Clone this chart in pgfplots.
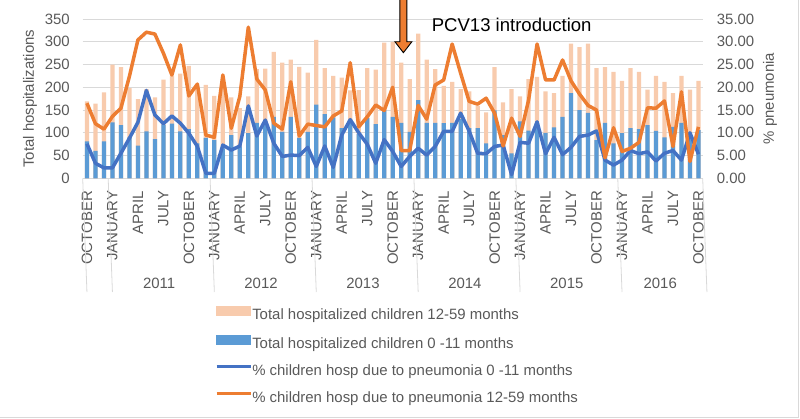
\documentclass[border=0pt]{standalone}
\usepackage{pgfplots}
\pgfplotsset{compat=1.18}
\usepackage{pgfplotstable}
\usepackage{fontspec}
\setmainfont{Liberation Sans}
\definecolor{peach}{HTML}{F8CBAD}
\definecolor{barblue}{HTML}{5B9BD5}
\definecolor{lineblue}{HTML}{4472C4}
\definecolor{lineorange}{HTML}{ED7D31}
\definecolor{gridgray}{HTML}{D9D9D9}
\definecolor{textgray}{HTML}{595959}
\newcommand\f{\fontsize{15}{18}\selectfont}

\pgfplotstableread{
i peach blue bl or
0 169 81 7.6 16.5
1 164 60 3.3 12.0
2 189 81 2.3 10.8
3 250 123 2.3 13.6
4 244 117 5.5 15.4
5 198 90 8.8 22.4
6 174 72 12.3 30.4
7 196 103 19.3 32.1
8 178 86 13.9 31.7
9 217 117 12.0 27.5
10 225 120 13.7 22.7
11 230 103 12.1 29.3
12 247 108 9.9 18.1
13 200 77 7.0 20.7
14 205 89 1.1 9.5
15 181 84 1.1 9.0
16 196 66 7.3 22.7
17 178 95 6.2 11.0
18 154 70 7.1 18.0
19 180 99 15.9 33.2
20 240 122 9.3 21.8
21 241 124 12.8 19.4
22 278 135 7.7 12.1
23 254 102 4.8 10.8
24 261 135 5.1 21.2
25 245 89 5.0 9.3
26 232 102 6.8 11.9
27 304 162 2.6 11.6
28 242 141 7.1 11.3
29 225 134 2.4 13.7
30 221 110 9.5 14.8
31 193 121 12.9 25.4
32 194 97 10.0 11.3
33 242 132 7.5 13.5
34 239 119 3.3 16.1
35 298 150 8.5 14.9
36 300 135 5.9 20.0
37 254 122 2.6 6.1
38 218 102 4.8 6.1
39 318 172 6.6 16.0
40 261 122 5.1 13.0
41 240 122 7.0 20.5
42 203 121 10.3 21.6
43 212 122 10.3 29.5
44 196 130 14.3 23.1
45 191 110 10.4 16.9
46 159 110 5.5 16.3
47 145 77 5.4 17.6
48 244 149 7.0 14.3
49 167 95 7.3 7.1
50 196 55 0.8 13.2
51 180 125 7.9 9.2
52 218 105 7.7 17.2
53 223 122 12.4 29.5
54 191 100 5.4 21.6
55 187 112 9.0 21.6
56 225 135 5.2 26.0
57 296 187 6.8 21.4
58 288 150 9.2 18.5
59 296 144 9.5 16.0
60 242 84 10.4 15.0
61 244 122 4.0 4.5
62 234 77 2.9 11.1
63 214 99 4.0 5.9
64 242 110 6.1 6.6
65 234 108 5.4 7.9
66 195 117 5.8 15.5
67 225 104 3.8 15.4
68 212 90 5.5 17.0
69 187 113 6.1 7.0
70 225 122 4.0 19.0
71 195 91 10.0 3.7
72 214 106 5.3 11.3
}\data

\begin{document}
\begin{tikzpicture}
\useasboundingbox (-82.7bp,-240.7bp) rectangle (717.3bp,178.3bp);
\draw[gridgray, line width=0.8bp] (-82.7bp,-238.8bp) -- (716.0bp,-238.8bp) -- (716.0bp,178.3bp);
\begin{axis}[
  at={(0,0)}, anchor=south west,
  scale only axis, width=620bp, height=159.3bp,
  xmin=-0.5, xmax=72.5, ymin=0, ymax=350,
  clip=false,
  axis x line*=bottom, axis y line*=left,
  x axis line style={draw=gridgray, line width=0.8bp, -},
  y axis line style={draw=none},
  major tick length=0pt,
  ytick={0,50,...,350},
  ymajorgrids, grid style={draw=gridgray, line width=0.8bp},
  /pgf/number format/assume math mode=true,
  xtick={0,3,...,72},
  xticklabels={OCTOBER,JANUARY,APRIL,JULY,OCTOBER,JANUARY,APRIL,JULY,OCTOBER,JANUARY,APRIL,JULY,OCTOBER,JANUARY,APRIL,JULY,OCTOBER,JANUARY,APRIL,JULY,OCTOBER,JANUARY,APRIL,JULY,OCTOBER},
  xticklabel style={yshift=-12.5bp, rotate=90, anchor=east, inner sep=0pt, font=\f, text=textgray},
  yticklabel style={anchor=east, inner sep=0pt, xshift=-12.7bp, font=\f, text=textgray},
  ylabel={Total hospitalizations},
  every axis y label/.style={at={(axis description cs:-0.085,0.5)}, rotate=90, anchor=center, font=\f, text=textgray},
]
\addplot[ybar, bar width=0.5, bar shift=0pt, fill=peach, draw=none] table[x=i,y=peach]{\data};
\addplot[ybar, bar width=0.5, bar shift=0pt, fill=barblue, draw=none] table[x=i,y=blue]{\data};
% year separators
\pgfplotsinvokeforeach{-0.5,2.5,14.5,26.5,38.5,50.5,62.5,72.5}{
  \draw[gridgray, line width=0.8bp] (axis cs:#1,0) -- ++(0,-113.7bp);
}
\node[font=\f, text=textgray, anchor=center, inner sep=0pt] at ([yshift=-104.7bp]axis cs:8.5,0) {2011};
\node[font=\f, text=textgray, anchor=center, inner sep=0pt] at ([yshift=-104.7bp]axis cs:20.5,0) {2012};
\node[font=\f, text=textgray, anchor=center, inner sep=0pt] at ([yshift=-104.7bp]axis cs:32.5,0) {2013};
\node[font=\f, text=textgray, anchor=center, inner sep=0pt] at ([yshift=-104.7bp]axis cs:44.5,0) {2014};
\node[font=\f, text=textgray, anchor=center, inner sep=0pt] at ([yshift=-104.7bp]axis cs:56.5,0) {2015};
\node[font=\f, text=textgray, anchor=center, inner sep=0pt] at ([yshift=-104.7bp]axis cs:67.5,0) {2016};
% annotation arrow and text
\draw[black, line width=0.9bp, fill=lineorange, line join=miter]
  (axis cs:36.85,395) -- (axis cs:36.85,300.1) -- (axis cs:36.26,300.1) -- (axis cs:37.26,276)
  -- (axis cs:38.26,300.1) -- (axis cs:37.67,300.1) -- (axis cs:37.67,395);
\node[anchor=west, inner sep=0pt, font=\fontsize{18.6}{22}\selectfont, text=black] at (axis cs:40.59,338) {PCV13 introduction};
\end{axis}
\begin{axis}[
  at={(0,0)}, anchor=south west,
  scale only axis, width=620bp, height=159.3bp,
  xmin=-0.5, xmax=72.5, ymin=0, ymax=35,
  axis y line*=right, axis x line=none,
  y axis line style={draw=none},
  major tick length=0pt,
  ytick={0,5,...,35},
  /pgf/number format/assume math mode=true,
  yticklabel style={anchor=west, inner sep=0pt, xshift=14bp, font=\f, text=textgray,
    /pgf/number format/fixed, /pgf/number format/fixed zerofill, /pgf/number format/precision=2},
  ylabel={\% pneumonia},
  every axis y label/.style={at={(axis description cs:1.1085,0.5)}, rotate=90, anchor=center, font=\f, text=textgray},
  legend cell align=left,
  legend style={at={(axis description cs:0.213,-0.8017)}, anchor=north west, draw=none, fill=none,
    inner sep=0pt, outer sep=0pt, font=\f, text=textgray, row sep=12.2bp, column sep=0bp,
    nodes={inner sep=0pt, text height=11bp, text depth=3.5bp}},
]
\addlegendimage{legend image code/.code={\fill[peach] (0bp,1bp) rectangle (34bp,9.5bp);}}
\addlegendentry{Total hospitalized children 12-59 months}
\addlegendimage{legend image code/.code={\fill[barblue] (0bp,1bp) rectangle (34bp,9.5bp);}}
\addlegendentry{Total hospitalized children 0 -11 months}
\addplot[lineblue, line width=3.5bp, line join=round, mark=none,
  legend image code/.code={\draw[lineblue, line width=3.5bp] (0bp,5bp) -- (34bp,5bp);}] table[x=i,y=bl]{\data};
\addlegendentry{\% children hosp due to pneumonia 0 -11 months}
\addplot[lineorange, line width=3.5bp, line join=round, mark=none,
  legend image code/.code={\draw[lineorange, line width=3.5bp] (0bp,5bp) -- (34bp,5bp);}] table[x=i,y=or]{\data};
\addlegendentry{\% children hosp due to pneumonia 12-59 months}
\end{axis}
\end{tikzpicture}
\end{document}
